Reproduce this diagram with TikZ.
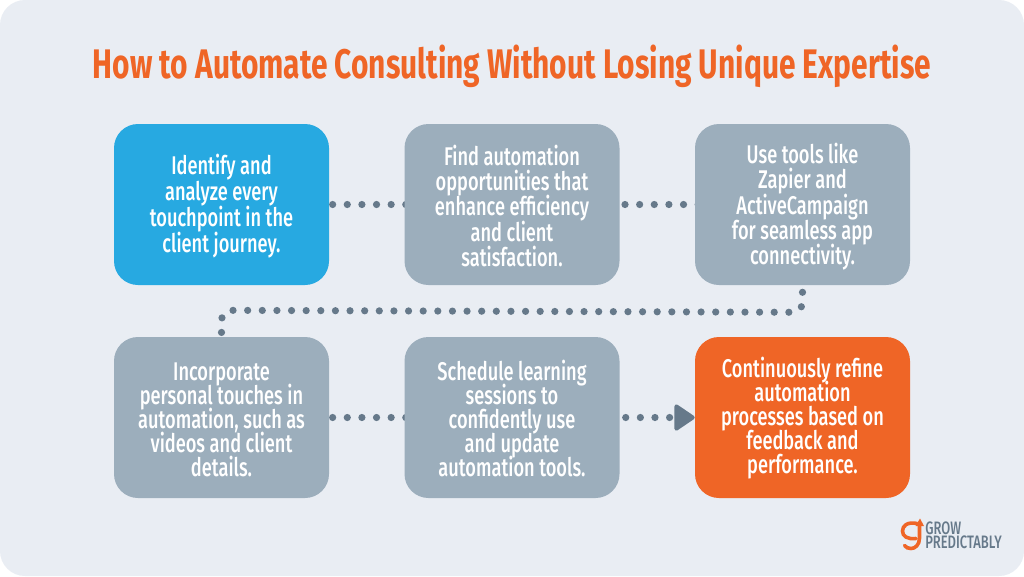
\documentclass[tikz,border=0pt]{standalone}
\usepackage{fontspec}
\setmainfont{Fira Sans}
\newfontfamily\bodyfont[FakeStretch=0.712]{Fira Sans Medium}
\newfontfamily\logofont[FakeStretch=0.72]{Fira Sans Medium}
\newfontfamily\titlefont[FakeStretch=0.7235]{Fira Sans Bold}
\usetikzlibrary{arrows.meta}
\definecolor{panelc}{HTML}{E9EDF3}
\definecolor{orangec}{HTML}{EF6526}
\definecolor{bluec}{HTML}{27A9E1}
\definecolor{grayc}{HTML}{9CAEBC}
\definecolor{dotc}{HTML}{66798A}
\newcommand\toplift[1]{\rule{0pt}{#1pt}}
\pgfdeclarelayer{under}
\pgfsetlayers{under,main}
\tikzset{
  x=0.75pt,y=-0.75pt,
  card/.style={rectangle,minimum width=161.25pt,minimum height=120.75pt,rounded corners=18pt,
    inner sep=0pt,align=center,text=white,font=\bodyfont\fontsize{19.2}{#1}\selectfont},
  card/.default=18.4,
  dots/.style={draw=dotc,line width=5.4pt,line cap=round,dash pattern=on 0pt off 10.97pt,dash phase=#1},
  titletext/.style={text=orangec,font=\titlefont\fontsize{31}{36}\selectfont,inner sep=0pt},
  logotext/.style={text=dotc,font=\logofont\fontsize{13.5}{10.5}\selectfont,inner sep=0pt,align=left,anchor=north west},
  logomark/.style={draw=orangec,line width=2.7pt,line cap=round}
}
\begin{document}
\begin{tikzpicture}
\lineskiplimit=-10pt\relax
\useasboundingbox (0,0) rectangle (1024,576);
\begin{pgfonlayer}{under}
\fill[white] (0,0) rectangle (1024,576);
\fill[panelc,rounded corners=18.75pt] (0,0) rectangle (1024,576);
\end{pgfonlayer}
\node[titletext] (title) at (512,66) {How to Automate Consulting Without Losing Unique Expertise};
\node[card=19.5,fill=bluec] (c1) at (221.5,204.5) {\toplift{17}Identify and\\analyze every\\touchpoint in the\\client journey.};
\node[card=18.8,fill=grayc] (c2) at (512,204.5) {\toplift{17.5}Find automation\\opportunities that\\enhance efficiency\\and client\\satisfaction.};
\node[card=18.8,fill=grayc] (c3) at (802.5,204.5) {\toplift{18.5}Use tools like\\Zapier and\\ActiveCampaign\\for seamless app\\connectivity.};
\node[card=18,fill=grayc] (c4) at (221.5,417.5) {\toplift{16.5}Incorporate\\personal touches in\\automation, such as\\videos and client\\details.};
\node[card=18,fill=grayc] (c5) at (512,417.5) {\toplift{16.5}Schedule learning\\sessions to\\confidently use\\and update\\automation tools.};
\node[card=18,fill=orangec] (c6) at (802.5,417.5) {\toplift{16.5}Continuously refine\\automation\\processes based on\\feedback and\\performance.};
\coordinate (bendA) at (802.5,312.3);
\coordinate (bendB) at (221.5,310.3);
\begin{pgfonlayer}{under}
\draw[dots=4.4pt] (c1.center) -- (c2.center);
\draw[dots=3pt] (c2.center) -- (c3.center);
\draw[dots=5.7pt,rounded corners=7.5pt] (c3.south) -- (bendA) -- (bendB) -- (c4.north);
\draw[dots=4.4pt] (c4.center) -- (c5.center);
\end{pgfonlayer}
\draw[dots=6.5pt,-{Triangle[length=16.5pt,width=21.5pt,round,line width=3pt,sep=0pt]}] (c5.east) -- (c6.west);
% logo
\node[logotext] (logo) at (925,522) {GROW\\PREDICTABLY};
\draw[logomark] (917,523.5) .. controls (907,521.5) and (902.5,526) .. (902.5,531) .. controls (902.5,536) and (907,539.5) .. (916,538.5);
\draw[logomark] (919.5,525) -- (919.5,538) .. controls (919.5,545) and (915,548.5) .. (911,548.5) .. controls (908,548.5) and (906,547.5) .. (904.5,545.5);
\fill[orangec] (915.5,526) -- (920,518.5) -- (924,526) -- cycle;
\end{tikzpicture}
\end{document}
